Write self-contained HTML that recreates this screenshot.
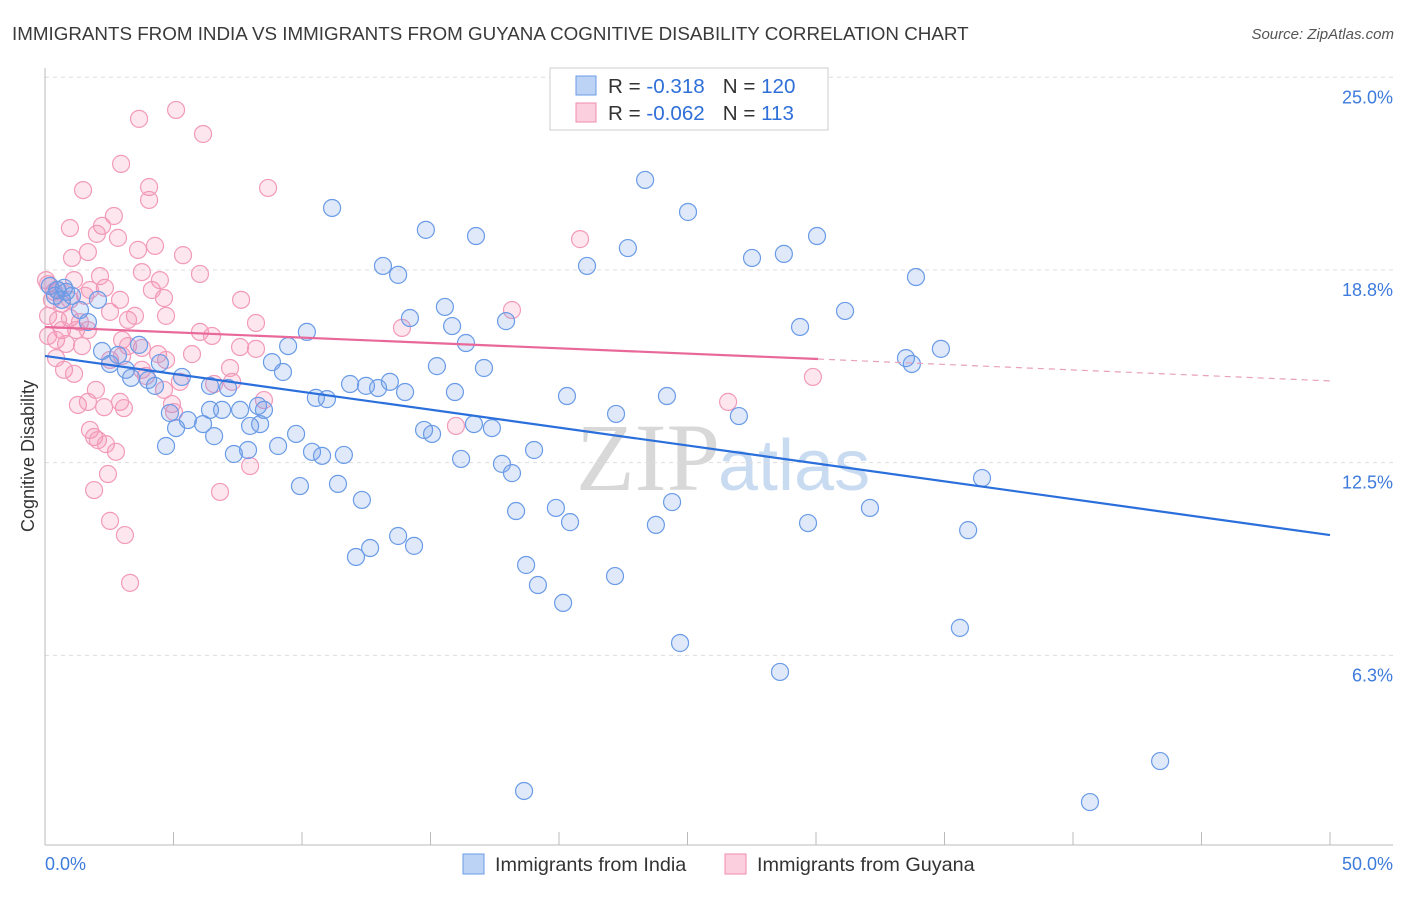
<!DOCTYPE html>
<html><head><meta charset="utf-8"><style>
body{margin:0;background:#fff;font-family:"Liberation Sans",sans-serif}
#c{position:relative;width:1406px;height:892px}
</style></head><body>
<div id="c">
<svg id="s" width="1406" height="892" xmlns="http://www.w3.org/2000/svg">
<text x="12" y="40" font-size="18.8" fill="#3a3a3a">IMMIGRANTS FROM INDIA VS IMMIGRANTS FROM GUYANA COGNITIVE DISABILITY CORRELATION CHART</text>
<text x="1394" y="39" font-size="15" fill="#555" font-style="italic" text-anchor="end">Source: ZipAtlas.com</text>
<text x="34" y="456" font-size="18" fill="#333" text-anchor="middle" transform="rotate(-90 34 456)">Cognitive Disability</text>
<text x="720" y="490" font-size="96" fill="#d8d8d8" text-anchor="end" font-family="Liberation Serif,serif">ZIP</text>
<text x="718" y="490" font-size="72" fill="#c9dbf1">atlas</text>
<g id="grid"></g><g id="axes"></g><g id="pts"></g><g id="trend"></g>
<g>
<rect x="550" y="68" width="278" height="62" fill="#fff" stroke="#ccc"/>
<rect x="576" y="76" width="20" height="19" fill="#bcd3f5" stroke="#6b9be6"/>
<rect x="576" y="103" width="20" height="19" fill="#fbcfdd" stroke="#f08bb0"/>
<text x="608" y="93" font-size="20.6" fill="#333">R = <tspan fill="#2f6fd8"> -0.318</tspan><tspan dx="18">N = </tspan><tspan fill="#2f6fd8">120</tspan></text>
<text x="608" y="120" font-size="20.6" fill="#333">R = <tspan fill="#2f6fd8">-0.062</tspan><tspan dx="18">N = </tspan><tspan fill="#2f6fd8"> 113</tspan></text>
</g>
<g>
<rect x="463" y="854" width="21" height="20" fill="#bcd3f5" stroke="#6b9be6"/>
<text x="495" y="871" font-size="19.8" fill="#333">Immigrants from India</text>
<rect x="725" y="854" width="21" height="20" fill="#fbcfdd" stroke="#f08bb0"/>
<text x="757" y="871" font-size="19.8" fill="#333">Immigrants from Guyana</text>
</g>
</svg></div>
<script>
const yTicks=[25,18.75,12.5,6.25];
const yTickLabels=["25.0%","18.8%","12.5%","6.3%"];
const xTickLabels=["0.0%","50.0%"];
const indiaX=[23.35,25.02,11.17,14.82,16.77,30.04,22.68,13.15,13.74,21.09,27.51,28.75,33.89,15.56,14.2,17.94,15.84,10.19,16.38,9.46,29.38,31.13,34.86,33.5,33.73,15.25,17.08,8.83,9.26,11.87,12.49,13.42,12.96,14.01,15.95,10.54,10.97,20.31,24.2,27.0,22.22,6.42,7.12,5.33,4.47,4.28,3.35,4.01,3.15,2.53,2.84,2.22,3.66,1.67,2.06,1.36,0.47,0.66,1.05,0.19,0.39,0.82,4.86,5.56,6.42,6.89,7.59,8.29,8.52,5.1,6.15,6.58,7.98,8.37,9.77,10.39,10.78,11.63,14.75,15.06,16.69,17.39,19.03,16.19,17.78,18.17,7.9,7.35,4.71,9.07,9.92,11.4,12.33,18.33,19.88,20.43,24.4,23.77,29.69,32.1,35.92,36.46,13.74,14.36,12.65,12.1,18.72,19.18,20.16,22.18,24.71,28.6,35.6,43.39,18.64,40.66,0.74];
const indiaY=[21.67,20.63,20.76,20.05,19.85,19.85,19.46,18.88,18.59,18.88,19.14,19.27,18.52,17.55,17.19,17.09,16.93,16.74,16.38,16.28,16.9,17.42,16.19,15.89,15.7,15.63,15.57,15.76,15.44,15.05,14.99,15.12,14.92,14.79,14.79,14.6,14.56,14.66,14.66,14.01,14.08,14.99,14.92,15.28,15.73,14.99,15.25,15.18,15.51,15.7,15.99,16.12,16.32,17.06,17.78,17.45,18.1,17.78,17.91,18.23,17.91,18.04,14.11,13.88,14.21,14.21,14.21,14.34,14.21,13.62,13.75,13.36,13.69,13.75,13.43,12.85,12.72,12.75,13.56,13.43,13.75,13.62,12.91,12.62,12.46,12.16,12.91,12.78,13.04,13.04,11.74,11.81,11.29,10.93,11.03,10.57,11.22,10.48,10.54,11.03,10.31,12.0,10.12,9.8,9.73,9.44,9.18,8.53,7.95,8.82,6.65,5.71,7.14,2.82,1.85,1.49,18.17];
const guyanaX=[5.1,3.66,6.15,2.96,1.48,4.05,4.05,8.68,2.68,2.22,0.97,2.02,2.84,4.28,3.62,1.67,5.37,1.05,20.82,0.04,1.13,2.14,3.77,6.03,4.47,2.33,1.75,0.51,0.27,0.66,0.97,1.56,2.92,4.63,7.63,4.16,18.17,0.12,0.51,0.97,1.36,0.66,1.21,0.12,0.43,1.67,2.53,3.23,3.5,4.71,8.21,13.89,6.03,6.5,7.59,8.21,3.0,3.23,3.77,4.4,5.72,0.82,1.44,0.43,0.74,1.13,2.53,3.0,3.77,4.71,3.93,5.25,7.2,7.28,6.58,4.63,1.98,1.28,1.67,2.3,2.92,3.07,4.94,5.02,8.52,26.58,29.88,15.99,1.75,1.91,2.06,2.37,2.76,7.98,2.45,1.91,6.81,2.53,3.11,3.31,0.12,0.35];
const guyanaY=[23.94,23.65,23.16,22.19,21.34,21.44,21.02,21.41,20.5,20.18,20.11,19.92,19.79,19.53,19.4,19.33,19.23,19.14,19.75,18.42,18.42,18.55,18.68,18.62,18.42,18.17,18.1,18.1,17.78,17.65,17.78,17.91,17.78,17.84,17.78,18.1,17.45,17.26,17.13,17.19,17.06,16.8,16.8,16.61,16.48,16.8,17.39,17.13,17.26,17.26,17.03,16.87,16.74,16.61,16.25,16.19,16.48,16.28,16.22,16.02,16.02,16.35,16.28,15.89,15.51,15.38,15.83,15.96,15.51,15.83,15.31,15.12,15.57,15.12,15.05,14.86,14.86,14.37,14.47,14.3,14.47,14.27,14.4,14.14,14.53,14.47,15.28,13.69,13.56,13.33,13.23,13.1,12.85,12.39,12.13,11.61,11.55,10.61,10.15,8.6,18.29,18.04];
const indiaTrendX=[0,50];
const indiaTrendY=[15.96,10.15];
const guyanaTrendX=[0,30.08,50];
const guyanaTrendY=[16.9,15.86,15.15];

const X0=45,X1=1330,Y0=848,PY=30.83;
function sx(v){return X0+(X1-X0)*v/50;}
function sy(v){return Y0-v*PY;}
const NS="http://www.w3.org/2000/svg";
function mk(tag,attrs,parent){const e=document.createElementNS(NS,tag);for(const k in attrs)e.setAttribute(k,attrs[k]);document.getElementById(parent).appendChild(e);return e;}

yTicks.forEach((t,i)=>{
  const l=mk('line',{x1:X0,x2:1393,y1:sy(t),y2:sy(t),stroke:'#ddd','stroke-dasharray':'4,4'},'grid');
  
  
  const tx=mk('text',{x:1393,y:sy(t)+26,'font-size':18,fill:'#3d7bdc','text-anchor':'end'},'grid');
  tx.textContent=yTickLabels[i];
  
  
});
const ax=mk('line',{x1:X0,x2:1393,y1:845,y2:845,stroke:'#bbb'},'axes');


const ay=mk('line',{x1:X0,x2:X0,y1:68,y2:845,stroke:'#bbb'},'axes');


for(let i=0;i<=10;i++){
  const t=mk('line',{x1:sx(i*5),x2:sx(i*5),y1:832,y2:845,stroke:'#bbb'},'axes');
  
  
}
const xl0=mk('text',{x:45,y:870,'font-size':18,fill:'#3d7bdc'},'axes');xl0.textContent=xTickLabels[0];


const xl1=mk('text',{x:1393,y:870,'font-size':18,fill:'#3d7bdc','text-anchor':'end'},'axes');xl1.textContent=xTickLabels[1];



guyanaX.forEach((v,i)=>{
  const c=mk('circle',{cx:sx(v),cy:sy(guyanaY[i]),r:8.5,fill:'rgba(244,143,177,0.22)',stroke:'#f29ab9','stroke-width':1.2},'pts');
  
  
});
indiaX.forEach((v,i)=>{
  const c=mk('circle',{cx:sx(v),cy:sy(indiaY[i]),r:8.5,fill:'rgba(110,155,230,0.22)',stroke:'#6a9be6','stroke-width':1.2},'pts');
  
  
});
const bt=mk('line',{x1:sx(indiaTrendX[0]),y1:sy(indiaTrendY[0]),x2:sx(indiaTrendX[1]),y2:sy(indiaTrendY[1]),stroke:'#2a6fdb','stroke-width':2.2},'trend');


const pt=mk('line',{x1:sx(guyanaTrendX[0]),y1:sy(guyanaTrendY[0]),x2:sx(guyanaTrendX[1]),y2:sy(guyanaTrendY[1]),stroke:'#e8689a','stroke-width':2.2},'trend');


const pd=mk('line',{x1:sx(guyanaTrendX[1]),y1:sy(guyanaTrendY[1]),x2:sx(guyanaTrendX[2]),y2:sy(guyanaTrendY[2]),stroke:'#e8a0bb','stroke-width':1.2,'stroke-dasharray':'6,5'},'trend');


</script>
</body></html>
